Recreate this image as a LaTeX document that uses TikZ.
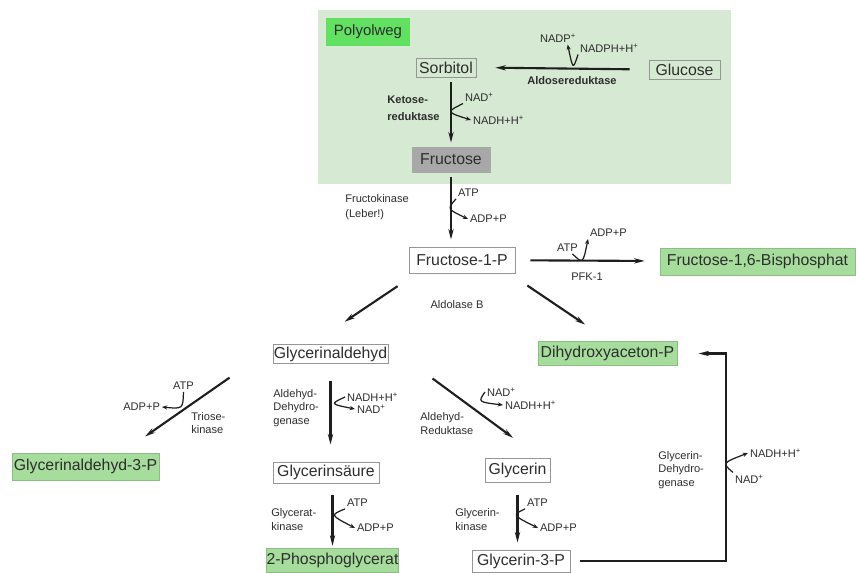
\documentclass[tikz,border=0pt]{standalone}
\usepackage{fontspec}
\setmainfont{Liberation Sans}
\usetikzlibrary{arrows.meta}
\definecolor{polybg}{RGB}{214,233,210}
\definecolor{polygreen}{RGB}{98,224,98}
\definecolor{prodgreen}{RGB}{166,221,156}
\definecolor{fruct}{RGB}{168,168,168}
\definecolor{boxline}{RGB}{150,150,150}
\definecolor{textgray}{RGB}{45,45,45}
\definecolor{linegray}{RGB}{30,30,30}
\begin{document}
\begin{tikzpicture}[x = 0.02cm, y = -0.02cm,
    substrate/.style = {draw = boxline, line width = 0.5pt, text = textgray, font = \fontsize{9}{10}\selectfont, inner sep = 0pt},
    product/.style = {substrate, fill = prodgreen, draw = prodgreen!85!black},
    enzyme/.style = {text = textgray, font = \fontsize{6.3}{7.6}\selectfont, align = left, inner sep = 0pt},
    cofactor/.style = {text = textgray, font = \fontsize{6.3}{7.5}\selectfont, inner sep = 1pt},
    reaction/.style = {draw = linegray, line width = 1.2pt, -{Stealth[length = 6pt, width = 3pt]}},
    hook/.style = {draw = linegray, line width = 0.7pt, -{Stealth[length = 3pt, width = 2.4pt]}}]
  \useasboundingbox (0, 0) rectangle (856, 572);
  \fill[polybg] (318, 10) rectangle (731, 184);

  \node[substrate, draw = none, fill = polygreen, font = \fontsize{8.5}{10}\selectfont, minimum width = 1.68cm, minimum height = 0.56cm] (polyolweg) at (368, 32) {Polyolweg};
  \node[substrate, minimum width = 1.2cm, minimum height = 0.38cm] (sorbitol) at (446, 67.5) {Sorbitol};
  \node[substrate, minimum width = 1.42cm, minimum height = 0.38cm] (glucose) at (684.5, 69.5) {Glucose};
  \node[substrate, draw = fruct, fill = fruct, minimum width = 1.56cm, minimum height = 0.5cm] (fructose) at (451, 159.5) {Fructose};
  \node[substrate, minimum width = 2.12cm, minimum height = 0.52cm] (fructose1p) at (462, 260) {Fructose-1-P};
  \node[product, minimum width = 3.9cm, minimum height = 0.54cm] (bisphosphat) at (757.5, 261.5) {Fructose-1,6-Bisphosphat};
  \node[substrate, minimum width = 2.3cm, minimum height = 0.37cm] (glycerinaldehyd) at (330.5, 354) {Glycerinaldehyd};
  \node[product, minimum width = 2.78cm, minimum height = 0.47cm] (dhap) at (607.5, 353.5) {Dihydroxyaceton-P};
  \node[product, minimum width = 2.94cm, minimum height = 0.54cm] (ga3p) at (85.5, 466.5) {Glycerinaldehyd-3-P};
  \node[substrate, minimum width = 2.12cm, minimum height = 0.42cm] (glycerinsaeure) at (326, 472.5) {Glycerinsäure};
  \node[substrate, minimum width = 1.3cm, minimum height = 0.48cm] (glycerin) at (517.5, 470) {Glycerin};
  \node[product, minimum width = 2.42cm, minimum height = 0.48cm] (phosphoglycerat) at (332.5, 560) {2-Phosphoglycerat};
  \node[substrate, minimum width = 1.96cm, minimum height = 0.44cm] (glycerin3p) at (521, 561) {Glycerin-3-P};

  \node[enzyme, font = \bfseries\fontsize{6.3}{7.6}\selectfont] (aldosered) at (572, 81) {Aldosereduktase};
  \node[enzyme, anchor = west, font = \bfseries\fontsize{6.3}{9.5}\selectfont] (ketosered) at (387, 108) {Ketose-\\reduktase};
  \node[enzyme, anchor = west, font = \fontsize{6.3}{8.5}\selectfont] (fructokinase) at (345, 207) {Fructokinase\\(Leber!)};
  \node[enzyme] (pfk) at (587, 277) {PFK-1};
  \node[enzyme] (aldolase) at (457, 305) {Aldolase B};
  \node[enzyme, anchor = west] (triosekinase) at (191, 423) {Triose-\\kinase};
  \node[enzyme, anchor = west] (aldehyddh) at (273, 408) {Aldehyd-\\Dehydro-\\genase};
  \node[enzyme, anchor = west] (aldehydred) at (420, 423.5) {Aldehyd-\\Reduktase};
  \node[enzyme, anchor = west, font = \fontsize{6.3}{8}\selectfont] (glyceratkinase) at (271, 520) {Glycerat-\\kinase};
  \node[enzyme, anchor = west, font = \fontsize{6.3}{8}\selectfont] (glycerinkinase) at (455, 520) {Glycerin-\\kinase};
  \node[enzyme, anchor = west] (glycerindh) at (658, 470) {Glycerin-\\Dehydro-\\genase};

  \node[cofactor, anchor = west] (nadp) at (538, 38) {NADP\textsuperscript{+}};
  \node[cofactor, anchor = west] (nadph) at (578, 48) {NADPH+H\textsuperscript{+}};
  \node[cofactor, anchor = west] (nad1) at (463, 97) {NAD\textsuperscript{+}};
  \node[cofactor, anchor = west] (nadh1) at (471, 120) {NADH+H\textsuperscript{+}};
  \node[cofactor, anchor = west] (atp1) at (456, 193) {ATP};
  \node[cofactor, anchor = west] (adp1) at (468, 219) {ADP+P};
  \node[cofactor, anchor = west] (atp2) at (555, 248) {ATP};
  \node[cofactor, anchor = west] (adp2) at (588, 233) {ADP+P};
  \node[cofactor, anchor = west] (atp3) at (171, 386) {ATP};
  \node[cofactor, anchor = east] (adp3) at (162, 407) {ADP+P};
  \node[cofactor, anchor = west] (nadh4) at (345, 397) {NADH+H\textsuperscript{+}};
  \node[cofactor, anchor = west] (nad4) at (355, 409) {NAD\textsuperscript{+}};
  \node[cofactor, anchor = west] (nad5) at (485, 392) {NAD\textsuperscript{+}};
  \node[cofactor, anchor = west] (nadh5) at (503, 405) {NADH+H\textsuperscript{+}};
  \node[cofactor, anchor = west] (atp6) at (345, 503) {ATP};
  \node[cofactor, anchor = west] (adp6) at (355, 528) {ADP+P};
  \node[cofactor, anchor = west] (atp7) at (525, 503) {ATP};
  \node[cofactor, anchor = west] (adp7) at (538, 528) {ADP+P};
  \node[cofactor, anchor = west] (nadh8) at (748, 453) {NADH+H\textsuperscript{+}};
  \node[cofactor, anchor = west] (nad8) at (733, 479) {NAD\textsuperscript{+}};

  % main reactions
  \draw[reaction, shorten <=10.8pt, shorten >=10.8pt] (glucose.west) -- (sorbitol.east);
  \draw[reaction, shorten <=2.8pt, shorten >=2.3pt] (sorbitol.south -| fructose.north) -- (fructose.north);
  \draw[reaction, shorten <=2.8pt, shorten >=4pt] (fructose.south) -- (fructose.south |- fructose1p.north);
  \draw[reaction, shorten <=8.5pt, shorten >=8.5pt] (fructose1p) -- (bisphosphat);
  \draw[reaction, shorten <=13pt, shorten >=23pt] ([xshift = 0.16cm]fructose1p.south west) -- ([xshift = -0.39cm]glycerinaldehyd.north);
  \draw[reaction, shorten <=12.3pt, shorten >=17pt] ([xshift = -0.12cm]fructose1p.south east) -- ([xshift = 0.05cm]dhap.north);
  \draw[reaction, shorten <=13.9pt, shorten >=16pt] ([xshift = -0.46cm]glycerinaldehyd.south west) -- ([xshift = 0.73cm]ga3p.north);
  \draw[reaction, shorten <=9.7pt, shorten >=9.7pt] (glycerinaldehyd.south) -- (glycerinaldehyd.south |- glycerinsaeure.north);
  \draw[reaction, shorten <=14.2pt, shorten >=19pt] ([xshift = 0.48cm]glycerinaldehyd.south east) -- ([xshift = 0.45cm]glycerin.north);
  \draw[reaction, shorten <=6.8pt, shorten >=1pt] (phosphoglycerat.north |- glycerinsaeure.south) -- (phosphoglycerat.north);
  \draw[reaction, shorten <=7.4pt, shorten >=4pt] (glycerin.south) -- (glycerin.south |- glycerin3p.north);
  \draw[reaction, shorten <=5.7pt, shorten >=12pt] (glycerin3p.east) -- ++(156, 0) |- (dhap.east);

  % cofactors
  \draw[hook] (nadph.south west) .. controls (573, 70) and (573, 70) .. ([xshift = 0.19cm]nadp.south);
  \draw[hook] (nad1.south west) .. controls (446, 112) and (446, 112) .. (nadh1.west);
  \draw[hook] (atp1.south west) .. controls (447, 209) and (447, 209) .. (adp1.west);
  \draw[hook] ([xshift = 0.1cm]atp2.south) .. controls (583, 264) and (583, 264) .. (adp2.south west);
  \draw[hook] (atp3.south) .. controls (183, 409) .. (adp3.east);
  \draw[hook] (nadh4.west) .. controls (330, 404) and (330, 404) .. (nad4.west);
  \draw[hook] (nad5.west) .. controls (478, 402) and (478, 402) .. (nadh5.west);
  \draw[hook] (atp6.south west) .. controls (330, 515) and (330, 515) .. (adp6.west);
  \draw[hook] (atp7.south west) .. controls (512, 515) and (512, 515) .. (adp7.west);
  \draw[hook] (nad8.north west) .. controls (722, 463) and (722, 463) .. (nadh8.west);
\end{tikzpicture}
\end{document}
